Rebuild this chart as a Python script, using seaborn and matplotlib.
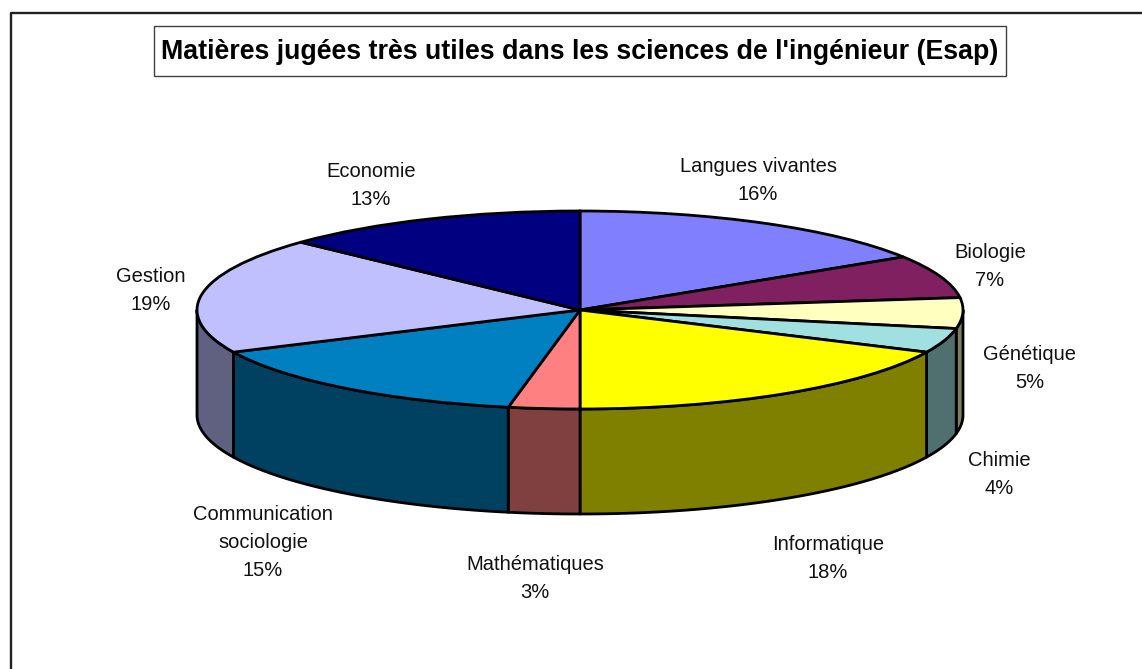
import numpy as np
import matplotlib.pyplot as plt
import seaborn as sns
from matplotlib.patches import Rectangle
from matplotlib.lines import Line2D

# Values, clockwise from the top
matieres = ['Langues vivantes', 'Biologie', 'Génétique', 'Chimie', 'Informatique',
            'Mathématiques', 'Communication\nsociologie', 'Gestion', 'Economie']
pourcents = [16, 7, 5, 4, 18, 3, 15, 19, 13]
couleurs = ['#8080FF', '#802060', '#FFFFC0', '#A0E0E0', '#FFFF00',
            '#FF8080', '#0080C0', '#C0C0FF', '#000080']
titre = "Matières jugées très utiles dans les sciences de l'ingénieur (Esap)"

# Label centres in pixels, same order as matieres
label_x = [758, 990, 1030, 999, 828, 535, 263, 151, 371]
label_y = [181, 267, 369, 475, 559, 578, 543, 291, 185]

W, H = 1142, 669
cx, cy = 580, 310      # pie centre
rx, ry = 383, 99       # ellipse radii
depth = 105 / ry       # wall height in y units

sns.set_theme(style='white')
plt.rcParams['font.family'] = ['Liberation Sans', 'DejaVu Sans']
palette = sns.color_palette(couleurs)


def px(x, y):
    return x / W, 1 - y / H


fig = plt.figure(figsize=(W / 100, H / 100), dpi=100, facecolor='white')
ax = fig.add_axes([0, 0, 1, 1])

# Top of the pie
ax.pie(pourcents, colors=palette, startangle=90, counterclock=False, radius=1,
       wedgeprops={'edgecolor': 'black', 'linewidth': 2, 'zorder': 3})

# Side walls, only the front half of the ellipse shows
bords = np.cumsum([0] + pourcents) / sum(pourcents)
for i in range(len(pourcents)):
    debut = max(bords[i], 0.25)
    fin = min(bords[i + 1], 0.75)
    if debut >= fin:
        continue
    t = np.linspace(debut, fin, 60) * 2 * np.pi
    xs = np.sin(t)
    ys = np.cos(t)
    ax.fill(np.r_[xs, xs[::-1]], np.r_[ys, ys[::-1] - depth],
            facecolor=np.array(palette[i]) * 0.5, edgecolor='black',
            linewidth=2, zorder=2, joinstyle='round')

ax.set_aspect('auto')
ax.set_xlim(-cx / rx, (W - cx) / rx)
ax.set_ylim(-(H - cy) / ry, cy / ry)
ax.axis('off')

# Chart frame, runs off the right and bottom of the picture
fig.add_artist(Line2D(*zip(px(11, H + 5), px(11, 12.5), px(W + 5, 12.5)),
                      color='#202020', linewidth=1.7))

# Title box
x0, y0 = px(154, 75.5)
x1, y1 = px(1005.5, 26)
fig.add_artist(Rectangle((x0, y0), x1 - x0, y1 - y0, facecolor='white',
                         edgecolor='#404040', linewidth=1))
fig.text(*px(580, 52), titre, ha='center', va='center', fontsize=19.3,
         fontweight='bold', color='black')

# Labels
for nom, pct, lx, ly in zip(matieres, pourcents, label_x, label_y):
    fig.text(*px(lx, ly), f'{nom}\n{pct}%', ha='center', va='center',
             fontsize=14.5, color='#111111', linespacing=1.6)

fig.savefig('out.png', dpi=100)
